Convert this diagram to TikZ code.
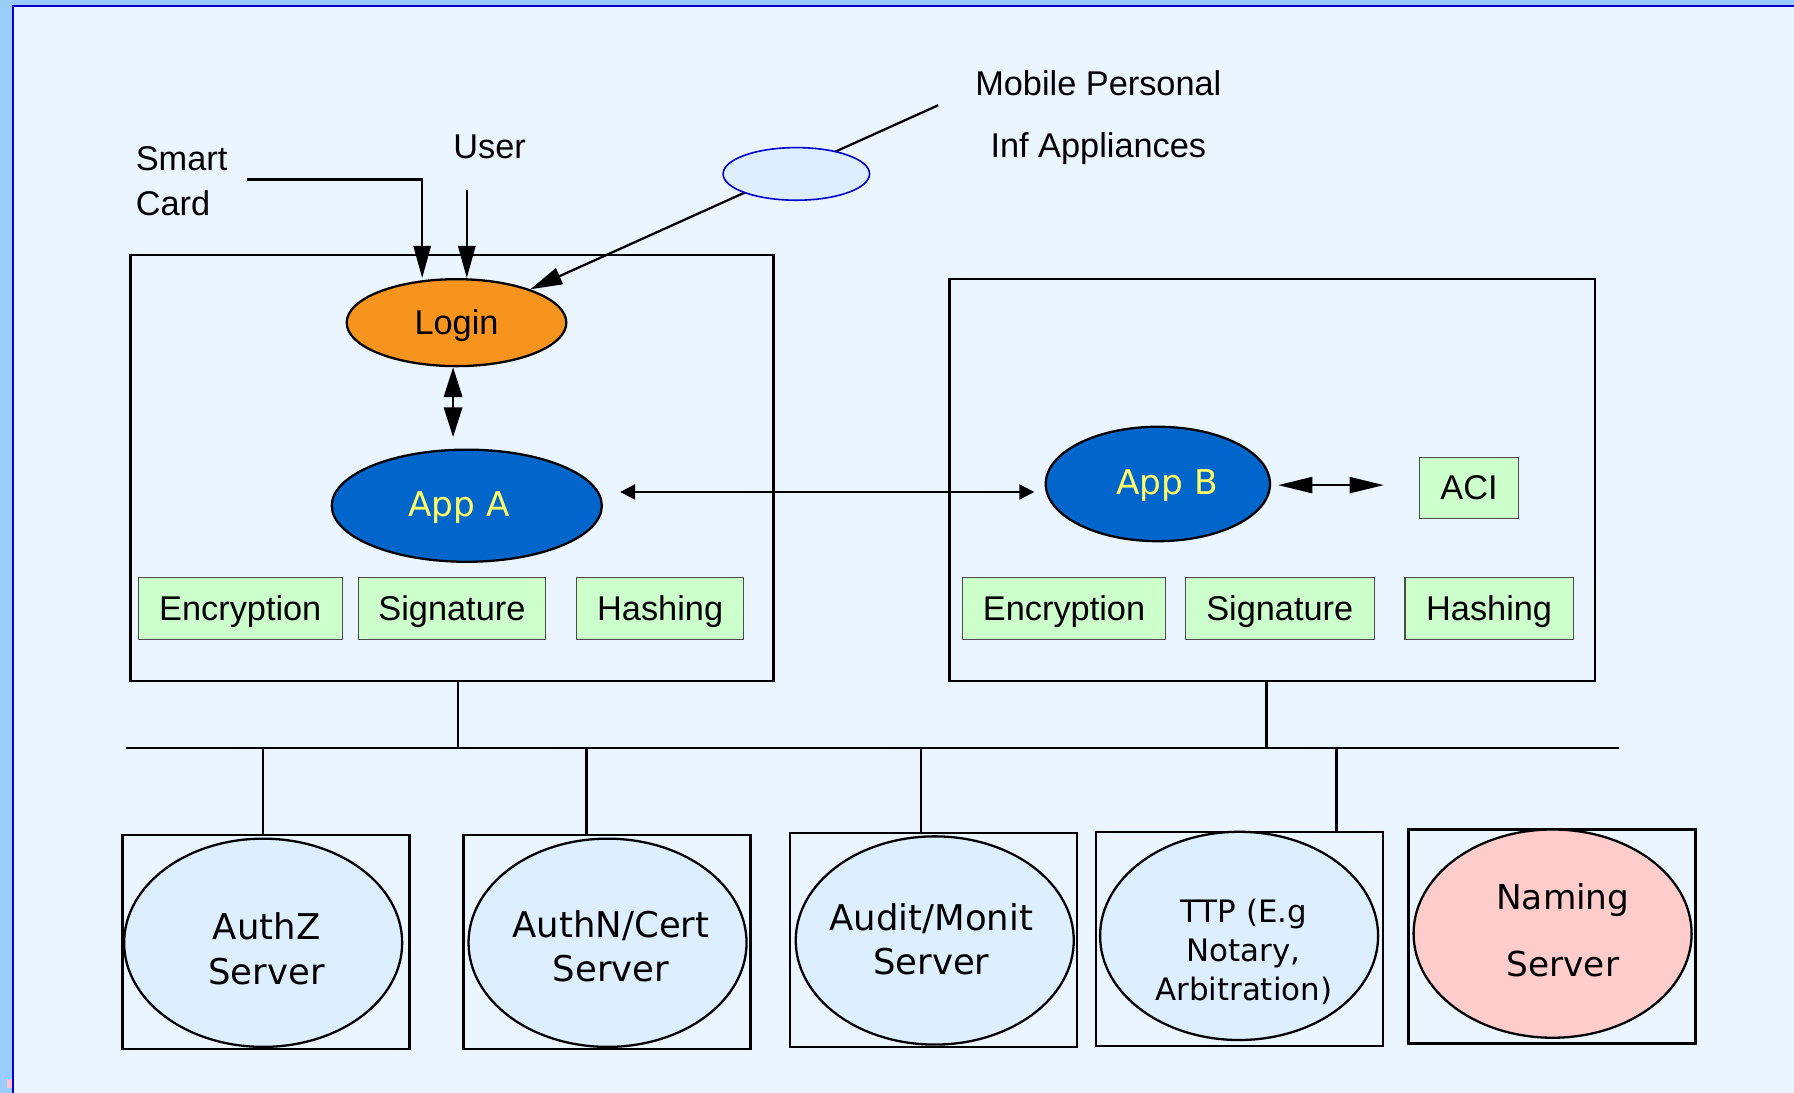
\documentclass[tikz,border=0pt]{standalone}
\usepackage{fontspec}
\setmainfont{Liberation Sans}
\newfontfamily\comicf{DejaVu Sans}
\usetikzlibrary{arrows.meta,calc,shapes.geometric}
\definecolor{bgc}{HTML}{EBF5FF}
\definecolor{stripc}{HTML}{99CCFF}
\definecolor{navyc}{HTML}{0000CC}
\definecolor{pinkmark}{HTML}{FFC0C8}
\definecolor{orangec}{HTML}{F7941D}
\definecolor{appblue}{HTML}{0066CC}
\definecolor{appyel}{HTML}{FFFF66}
\definecolor{greenc}{HTML}{CCFFCC}
\definecolor{srvfill}{HTML}{DDEEFF}
\definecolor{pinkc}{HTML}{FFCCCC}
\begin{document}
\begin{tikzpicture}[x=1pt,y=-1pt,
  ln/.style={line width=2pt, draw=black},
  bigtip/.style={-{Triangle[length=28pt,width=15pt]}},
  grn/.style={draw=black!70, line width=1pt, fill=greenc, minimum width=#1, minimum height=54pt, inner sep=0pt, text height=21pt, text depth=0pt, font=\fontsize{30}{36}\selectfont},
  cbox/.style={draw, line width=2pt, inner sep=0pt},
  srvbox/.style={draw, line width=2pt, inner sep=0pt, minimum width=251pt, minimum height=187pt},
  ell/.style={ellipse, draw, line width=2pt, inner sep=0pt},
  srv/.style={ell, fill=srvfill, minimum width=243pt, minimum height=182pt},
  srvtxt/.style={inner sep=0pt, align=center, font=\comicf\fontsize{31}{39}\selectfont},
  apptxt/.style={inner sep=0pt, text=appyel, font=\comicf\fontsize{30}{36}\selectfont},
  lbl/.style={inner sep=0pt, font=\fontsize{30}{39}\selectfont}
]
\useasboundingbox (0,0) rectangle (1568,955);
% background and frame
\fill[bgc] (0,0) rectangle (1568,955);
\fill[stripc] (0,0) rectangle (11,955);
\fill[stripc] (0,0) rectangle (1568,4.6);
\draw[line width=2pt, navyc] (11.6,955) -- (11.6,5.4) -- (1568,5.4);
\fill[pinkmark] (6,943) rectangle (10.5,951);

% container boxes
\node[cbox, minimum width=562pt, minimum height=372pt] (boxA) at (395,409) {};
\node[cbox, minimum width=564pt, minimum height=351pt] (boxB) at (1112,419.5) {};

% ellipses
\node[ell, fill=orangec, minimum width=192pt, minimum height=76pt, text height=21pt, text depth=0pt, font=\fontsize{30}{36}\selectfont] (login) at (399,282) {Login};
\node[ell, fill=appblue, minimum width=236pt, minimum height=98pt] (appa) at (408,442) {};
\node[apptxt] (appatxt) at (401,444) {App A};
\node[ell, fill=appblue, minimum width=196pt, minimum height=100pt] (appb) at (1012,423) {};
\node[apptxt] (appbtxt) at (1020,424) {App B};

% green boxes
\node[grn=178pt] (encA) at (210,532) {Encryption};
\node[grn=164pt] (sigA) at (395,532) {Signature};
\node[grn=146pt] (hashA) at (577,532) {Hashing};
\node[grn=178pt] (encB) at (930,532) {Encryption};
\node[grn=165pt] (sigB) at (1118.5,532) {Signature};
\node[grn=147pt] (hashB) at (1301.5,532) {Hashing};
\node[grn=86pt] (aci) at (1284,426.5) {ACI};

% labels
\node[lbl, anchor=west, align=left] (smart) at (118.5,158.5) {Smart\\Card};
\node[lbl] (user) at (428,128) {User};
\node[lbl, align=center, font=\fontsize{30}{54}\selectfont] (mobile) at (960,103) {Mobile Personal\\Inf Appliances};

% inputs to login
\coordinate (sc1) at (216,157);
\coordinate (sc2) at (369,157);
\draw[ln, bigtip] (sc1) -- (sc2) -- (sc2 |- login.north);
\coordinate (us) at (408,166);
\draw[ln, bigtip] (us) -- (us |- login.north);
\coordinate (mp) at (820,92);
\draw[ln, bigtip] (mp) -- (login);
\node[ellipse, draw=navyc, line width=1.4pt, fill=srvfill, minimum width=128pt, minimum height=46pt, inner sep=0pt] (mpi) at (696,152) {};

% login <-> app A
\coordinate (la1) at ($(login.south)+(-3,0)$);
\coordinate (la2) at ($(login.south)+(-3,61)$);
\draw[ln, {Triangle[length=26pt,width=16pt]}-{Triangle[length=26pt,width=16pt]}] (la1) -- (la2);

% app A <-> app B
\draw[ln, {Triangle[length=13pt,width=13pt]}-{Triangle[length=13pt,width=13pt]}] ($(appa.east)+(15,-12)$) -- ($(appb.west)+(-9,7)$);

% app B <-> ACI
\draw[ln, {Triangle[length=30pt,width=14pt]}-{Triangle[length=30pt,width=14pt]}] ($(appb.east)+(6,1)$) -- ($(aci.west)+(-31,-2.5)$);

% servers
\node[srvbox] (s1box) at (232.5,823.5) {};
\node[srv] (s1) at (230,824) {};
\node[srvtxt] (s1t) at (233,829) {AuthZ\\Server};
\node[srvbox] (s2box) at (530.5,823.5) {};
\node[srv] (s2) at (531,824) {};
\node[srvtxt] (s2t) at (534,827) {AuthN/Cert\\Server};
\node[srvbox] (s3box) at (816,821.5) {};
\node[srv] (s3) at (817,822) {};
\node[srvtxt] (s3t) at (814,821) {Audit/Monit\\Server};
\node[srvbox] (s4box) at (1083.5,820.5) {};
\node[srv] (s4) at (1083,818) {};
\node[srvtxt, font=\comicf\fontsize{27}{34}\selectfont] (s4t) at (1087,832) {TTP (E.g\\Notary,\\Arbitration)};
\node[srvbox] (s5box) at (1356.5,818.5) {};
\node[srv, fill=pinkc] (s5) at (1357,816) {};
\node[srvtxt, font=\comicf\fontsize{30}{59}\selectfont] (s5t) at (1366,813) {Naming\\Server};

% bus
\coordinate (busL) at (110,654);
\coordinate (busR) at (1415,654);
\draw[ln] (busL) -- (busR);
\coordinate (dA) at ($(boxA.south)+(5,0)$);
\draw[ln] (dA) -- (dA |- busL);
\coordinate (dB) at ($(boxB.south)+(-5,0)$);
\draw[ln] (dB) -- (dB |- busL);
\coordinate (d1) at ($(s1box.north)+(-2.5,0)$);
\draw[ln] (d1 |- busL) -- (d1);
\coordinate (d2) at ($(s2box.north)+(-18,0)$);
\draw[ln] (d2 |- busL) -- (d2);
\coordinate (d3) at ($(s3box.north)+(-11,0)$);
\draw[ln] (d3 |- busL) -- (d3);
\coordinate (d4) at ($(s4box.north)+(84.5,0)$);
\draw[ln] (d4 |- busL) -- (d4);
\end{tikzpicture}
\end{document}
